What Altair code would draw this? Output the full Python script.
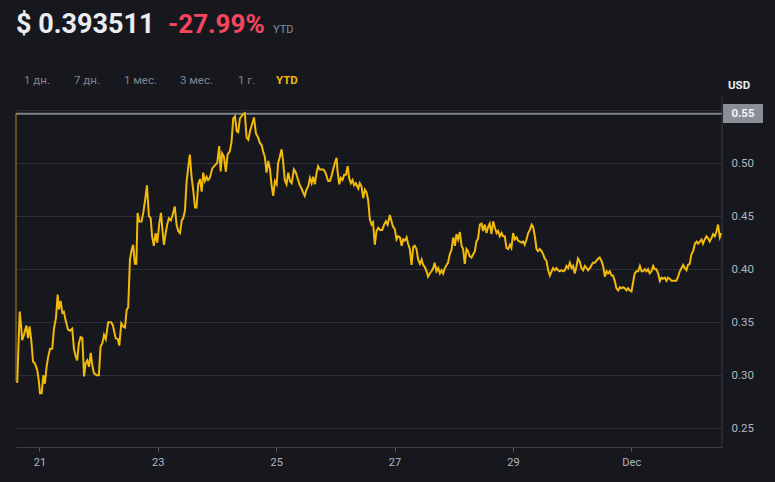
import altair as alt
import pandas as pd

# time in hours since 20 Nov 00:00, price in USD
hours = [
    14.5, 14.5, 15.0, 16.0, 16.6, 17.0, 17.7, 18.7, 19.4, 20.0, 20.7, 21.4, 22.2, 23.1, 23.8,
    24.2, 24.9, 25.6, 26.2, 26.9, 27.6, 28.3, 29.2, 29.9, 30.7, 31.4, 31.9, 32.6, 33.3, 33.9,
    34.6, 35.6, 36.4, 37.3, 38.0, 38.7, 39.3, 40.0, 40.7, 41.4, 42.1, 42.7, 43.4, 44.1, 44.8,
    45.4, 46.1, 47.2, 48.1, 48.8, 49.5, 50.2, 50.9, 51.9, 53.1, 53.8, 54.9, 55.8, 56.4, 57.2,
    58.0, 58.7, 59.4, 60.0, 60.7, 61.4, 62.0, 62.7, 63.3, 63.8, 64.5, 65.4, 66.1, 66.8, 67.6,
    68.4, 69.1, 69.7, 70.4, 71.1, 71.8, 72.6, 73.3, 74.0, 74.5, 75.2, 75.8, 76.5, 77.3, 78.0,
    78.9, 79.6, 80.3, 81.0, 81.7, 82.3, 83.0, 83.7, 84.3, 85.0, 85.7, 86.4, 87.1, 87.7, 88.4,
    89.1, 89.8, 90.4, 91.1, 91.8, 92.4, 93.1, 94.1, 95.2, 96.1, 96.9, 97.5, 98.1, 98.8, 99.6,
    100.3, 101.2, 101.9, 102.6, 103.3, 104.0, 104.6, 105.3, 106.6, 107.3, 108.0, 108.7, 109.4,
    110.4, 111.0, 111.8, 112.7, 113.4, 114.1, 114.7, 115.4, 116.1, 116.8, 117.5, 118.1, 118.8,
    119.5, 120.2, 120.8, 121.5, 122.2, 122.8, 123.5, 124.2, 124.9, 125.6, 126.3, 127.2, 128.0,
    128.9, 129.6, 130.3, 131.0, 131.6, 132.3, 133.0, 133.7, 134.4, 135.0, 135.7, 136.4, 137.0,
    137.7, 138.4, 139.1, 139.8, 140.4, 141.1, 141.8, 142.5, 143.1, 143.8, 144.5, 144.9, 145.6,
    146.2, 146.9, 147.6, 148.3, 149.0, 149.6, 150.3, 151.0, 151.6, 152.3, 153.3, 153.9, 154.6,
    155.3, 156.0, 156.7, 157.3, 158.0, 158.7, 159.3, 160.0, 160.7, 161.4, 162.1, 163.0, 163.8,
    164.5, 165.2, 166.1, 166.8, 167.4, 168.1, 168.8, 169.5, 170.2, 170.9, 171.5, 172.2, 172.9,
    173.5, 174.2, 174.9, 175.6, 176.2, 176.9, 177.6, 178.3, 179.0, 179.6, 180.3, 181.0, 181.6,
    182.3, 183.0, 183.7, 184.3, 185.0, 185.7, 186.4, 187.1, 187.7, 188.4, 189.1, 189.7, 190.4,
    191.1, 191.8, 192.5, 193.1, 193.8, 194.5, 195.2, 195.8, 196.5, 197.2, 197.8, 198.5, 199.2,
    199.9, 200.6, 201.2, 201.9, 202.6, 203.3, 203.9, 204.6, 205.3, 206.0, 206.6, 207.3, 208.0,
    208.7, 209.4, 210.0, 210.7, 211.4, 212.0, 212.7, 213.4, 214.1, 214.8, 215.4, 216.1, 216.8,
    217.5, 218.1, 218.8, 219.5, 220.1, 220.8, 221.5, 222.2, 222.9, 223.6, 224.2, 224.9, 225.6,
    226.2, 226.9, 227.6, 228.3, 228.9, 229.6, 230.3, 231.0, 231.7, 232.3, 233.0, 233.7, 234.3,
    235.0, 235.7, 236.4, 237.1, 237.7, 238.4, 239.1, 239.8, 240.4, 241.1, 241.8, 242.4, 243.1,
    243.8, 244.5, 245.2, 245.9, 246.5, 247.2, 247.9, 248.5, 249.2, 249.9, 250.6, 251.2, 251.9,
    252.6, 253.3, 254.0, 254.6, 255.3, 256.0, 256.6, 257.3, 258.0, 258.7, 259.4, 260.0, 260.7,
    261.4, 262.1, 262.7, 263.4, 264.1, 264.7, 265.4, 266.1, 266.8, 267.5, 268.2, 268.8, 269.5,
    270.2, 270.8, 271.5, 272.2, 272.9, 273.5, 274.2, 274.9, 275.6, 276.3, 276.9, 277.6, 278.3,
    278.9, 279.6, 280.3, 281.0, 281.7, 282.3, 283.0, 283.7, 284.4, 285.0, 285.7, 286.4, 287.0,
    287.7, 288.4, 289.1, 289.8, 290.5, 291.1, 291.8, 292.5, 293.1, 293.8, 294.5, 295.2, 295.8,
    296.5, 297.2, 297.9, 298.6, 299.2, 299.9, 300.6,
]
prices = [
    0.547, 0.294, 0.294, 0.360, 0.346, 0.333, 0.338, 0.347, 0.335, 0.346, 0.333, 0.313, 0.311, 0.305, 0.294,
    0.283, 0.283, 0.300, 0.292, 0.308, 0.318, 0.325, 0.325, 0.344, 0.354, 0.376, 0.362, 0.370, 0.359, 0.360,
    0.352, 0.343, 0.342, 0.344, 0.325, 0.318, 0.314, 0.330, 0.336, 0.335, 0.299, 0.311, 0.314, 0.308, 0.321,
    0.310, 0.302, 0.300, 0.300, 0.327, 0.330, 0.338, 0.334, 0.350, 0.350, 0.347, 0.335, 0.334, 0.328, 0.349,
    0.346, 0.345, 0.362, 0.364, 0.409, 0.418, 0.423, 0.405, 0.405, 0.453, 0.445, 0.445, 0.453, 0.464, 0.479,
    0.450, 0.448, 0.431, 0.422, 0.434, 0.425, 0.443, 0.453, 0.434, 0.423, 0.434, 0.442, 0.448, 0.446, 0.451,
    0.459, 0.442, 0.436, 0.434, 0.446, 0.448, 0.455, 0.483, 0.495, 0.508, 0.487, 0.474, 0.458, 0.458, 0.480,
    0.485, 0.473, 0.491, 0.483, 0.487, 0.484, 0.486, 0.495, 0.498, 0.500, 0.516, 0.492, 0.509, 0.506, 0.492,
    0.508, 0.511, 0.520, 0.542, 0.544, 0.530, 0.529, 0.542, 0.546, 0.547, 0.524, 0.522, 0.530,
    0.538, 0.543, 0.528, 0.524, 0.519, 0.517, 0.511, 0.506, 0.491, 0.502, 0.494, 0.480, 0.469,
    0.483, 0.480, 0.500, 0.506, 0.513, 0.502, 0.484, 0.480, 0.491, 0.483, 0.481, 0.494, 0.491,
    0.484, 0.479, 0.476, 0.472, 0.469, 0.475, 0.478, 0.486, 0.481, 0.487, 0.480, 0.491, 0.497,
    0.494, 0.494, 0.494, 0.492, 0.488, 0.483, 0.483, 0.488, 0.494, 0.500, 0.505, 0.492, 0.480,
    0.486, 0.484, 0.489, 0.489, 0.497, 0.486, 0.481, 0.484, 0.479, 0.481, 0.476, 0.481, 0.478,
    0.467, 0.475, 0.472, 0.465, 0.447, 0.442, 0.444, 0.423, 0.436, 0.439, 0.437, 0.437, 0.442,
    0.445, 0.442, 0.451, 0.445, 0.440, 0.438, 0.428, 0.431, 0.430, 0.422, 0.428, 0.427, 0.430,
    0.424, 0.419, 0.404, 0.421, 0.422, 0.419, 0.409, 0.405, 0.409, 0.404, 0.402, 0.398, 0.393,
    0.396, 0.398, 0.401, 0.406, 0.398, 0.401, 0.396, 0.399, 0.396, 0.401, 0.404, 0.406, 0.414,
    0.418, 0.430, 0.422, 0.433, 0.428, 0.435, 0.422, 0.419, 0.405, 0.419, 0.417, 0.412, 0.411,
    0.414, 0.417, 0.426, 0.429, 0.442, 0.443, 0.436, 0.442, 0.434, 0.440, 0.443, 0.433, 0.445,
    0.439, 0.434, 0.436, 0.431, 0.434, 0.431, 0.431, 0.420, 0.419, 0.423, 0.420, 0.434, 0.428,
    0.430, 0.427, 0.426, 0.425, 0.426, 0.423, 0.428, 0.434, 0.437, 0.442, 0.440, 0.431, 0.419,
    0.417, 0.419, 0.417, 0.414, 0.410, 0.408, 0.399, 0.394, 0.398, 0.401, 0.399, 0.401, 0.399,
    0.398, 0.399, 0.398, 0.399, 0.403, 0.401, 0.406, 0.401, 0.403, 0.396, 0.403, 0.410, 0.407,
    0.401, 0.399, 0.403, 0.401, 0.399, 0.401, 0.404, 0.406, 0.406, 0.408, 0.410, 0.411, 0.408,
    0.403, 0.393, 0.398, 0.396, 0.398, 0.394, 0.394, 0.389, 0.382, 0.380, 0.383, 0.382, 0.383,
    0.382, 0.380, 0.382, 0.380, 0.379, 0.387, 0.396, 0.398, 0.398, 0.403, 0.398, 0.398, 0.400,
    0.398, 0.400, 0.396, 0.398, 0.403, 0.400, 0.400, 0.396, 0.389, 0.392, 0.391, 0.392, 0.389,
    0.392, 0.391, 0.389, 0.389, 0.389, 0.389, 0.393, 0.398, 0.401, 0.404, 0.401, 0.399, 0.404,
    0.405, 0.414, 0.417, 0.424, 0.426, 0.424, 0.426, 0.428, 0.424, 0.428, 0.431, 0.429, 0.426,
    0.429, 0.433, 0.431, 0.436, 0.442, 0.430, 0.434,
]

x_tick_hours = [24, 72, 120, 168, 216, 264]
x_tick_labels = ["21", "23", "25", "27", "29", "Dec"]
y_ticks = [0.25, 0.30, 0.35, 0.40, 0.45, 0.50, 0.55]
period_tabs = ["1 дн.", "7 дн.", "1 мес.", "3 мес.", "1 г.", "YTD"]
price_text = "$ 0.393511"
change_text = "-27.99%"
period_text = "YTD"
currency_text = "USD"
max_price = 0.5465
max_label = "0.55"

df = pd.DataFrame({"h": hours, "price": prices})
one = pd.DataFrame({"a": [0]})

W, H = 706, 337
BG = "#17181e"
GRID = "#2c2f36"
AXIS = "#3a3d44"
LABEL = "#b0b6be"
GRAY = "#848e9c"
YELLOW = "#f0b90b"
FONT = "Roboto"

label_expr = "".join(
    f"datum.value == {h} ? '{l}' : " for h, l in zip(x_tick_hours, x_tick_labels)
) + "''"

x_scale = alt.Scale(domain=[14.5, 300.8], nice=False, zero=False)
y_scale = alt.Scale(domain=[0.2324, 0.55], nice=False, zero=False)

line = alt.Chart(df.iloc[1:]).mark_line(color=YELLOW, strokeWidth=2).encode(
    x=alt.X("h:Q", scale=x_scale,
            axis=alt.Axis(values=x_tick_hours, labelExpr=label_expr, title=None, grid=False,
                          domainColor=AXIS, tickColor="#5a5e66", tickSize=4,
                          labelColor=LABEL, labelFontSize=11, labelPadding=5, labelFont=FONT)),
    y=alt.Y("price:Q", scale=y_scale,
            axis=alt.Axis(orient="right", values=y_ticks, format=".2f",
                          labelExpr="datum.value > 0.54 ? '' : datum.label",
                          title=None, grid=True, gridColor=GRID, domain=False, ticks=False,
                          labelPadding=9, labelColor=LABEL, labelFontSize=11.5, labelFont=FONT)),
)

start = alt.Chart(df.iloc[:2]).mark_line(color="#b08a1a", strokeWidth=1.2, opacity=0.8).encode(
    x=alt.X("h:Q", scale=x_scale), y=alt.Y("price:Q", scale=y_scale)
)

max_line = alt.Chart(one).mark_rule(color="#7f838c", strokeWidth=2).encode(
    y=alt.datum(max_price)
)

right_rule = alt.Chart(one).mark_rule(color=AXIS, strokeWidth=1).encode(
    x=alt.value(W), y=alt.value(-13), y2=alt.value(H + 1)
)

box = alt.Chart(one).mark_rect(color="#8a8e97").encode(
    x=alt.value(W + 1), x2=alt.value(W + 41), y=alt.value(-6), y2=alt.value(13)
)
box_text = alt.Chart(one).mark_text(
    text=max_label, color="#f4f5f6", fontSize=11.5, fontWeight="bold", font=FONT,
    align="center", baseline="middle"
).encode(x=alt.value(W + 21), y=alt.value(4))

usd = alt.Chart(one).mark_text(
    text=currency_text, color="#eaecef", fontSize=11.5, fontWeight="bold", font=FONT,
    align="left", baseline="alphabetic"
).encode(x=alt.value(712), y=alt.value(-21))

head_price = alt.Chart(one).mark_text(
    text=price_text, color="#eaecef", fontSize=27, fontWeight="bold", font=FONT,
    align="left", baseline="alphabetic"
).encode(x=alt.value(0), y=alt.value(-77))
head_change = alt.Chart(one).mark_text(
    text=change_text, color="#f6465d", fontSize=26, fontWeight="bold", font=FONT,
    align="left", baseline="alphabetic"
).encode(x=alt.value(152), y=alt.value(-77))
head_period = alt.Chart(one).mark_text(
    text=period_text, color=GRAY, fontSize=11, font=FONT,
    align="left", baseline="alphabetic"
).encode(x=alt.value(257), y=alt.value(-77))

tab_x = [8, 58, 108, 164, 222, 260]
tabs = []
for i, (t, xx) in enumerate(zip(period_tabs, tab_x)):
    last = i == len(period_tabs) - 1
    tabs.append(
        alt.Chart(one).mark_text(
            text=t, color=YELLOW if last else "#7d8693", fontSize=11.5,
            fontWeight="bold" if last else "normal", font=FONT,
            align="left", baseline="alphabetic"
        ).encode(x=alt.value(xx), y=alt.value(-26))
    )

chart = alt.layer(
    max_line, line, start, right_rule, box, box_text, usd, head_price, head_change, head_period, *tabs
).properties(
    width=W, height=H, background=BG,
    padding={"left": 16, "top": 110, "right": 53, "bottom": 35},
    autosize=alt.AutoSizeParams(type="none"),
).configure_view(stroke=None)

chart.save("out.html", embed_options={"renderer": "svg", "actions": False})
